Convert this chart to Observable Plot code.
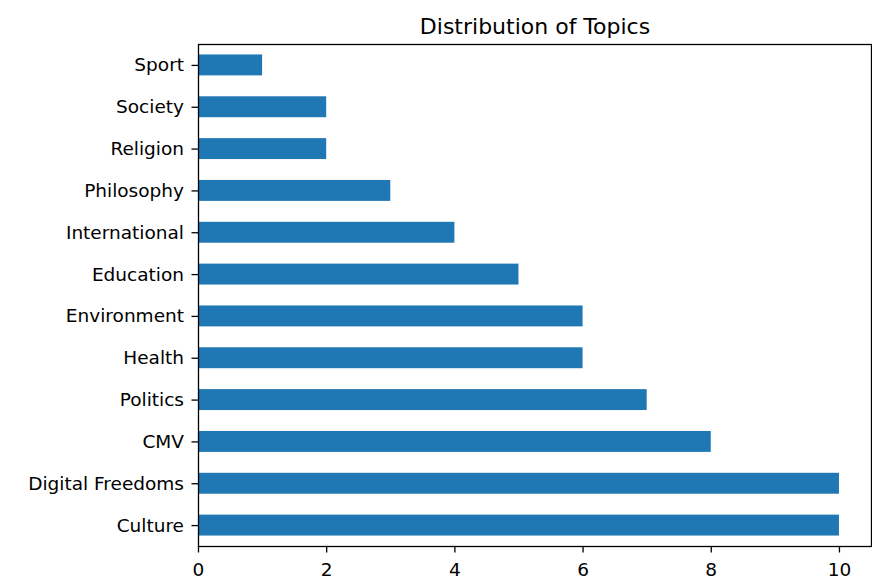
<!DOCTYPE html>
<html>
<head>
<meta charset="utf-8">
<script src="https://cdn.jsdelivr.net/npm/d3@7"></script>
<script src="https://cdn.jsdelivr.net/npm/@observablehq/plot@0.6"></script>
<style>
  html, body { margin: 0; padding: 0; background: #fff; }
  #wrap { position: relative; width: 872px; height: 588px; }
  #edge { position: absolute; left: 10px; top: 0; width: 1px; height: 588px; background: #e8e8e8; }
  svg text { font-family: "DejaVu Sans", sans-serif; }
</style>
</head>
<body>
<div id="wrap"><div id="edge"></div></div>
<script>
const topics = ["Sport", "Society", "Religion", "Philosophy", "International", "Education",
                "Environment", "Health", "Politics", "CMV", "Digital Freedoms", "Culture"];
const counts = [1, 2, 2, 3, 4, 5, 6, 6, 7, 8, 10, 10];
const xTicks = [0, 2, 4, 6, 8, 10];
const title = "Distribution of Topics";

const data = topics.map((t, i) => ({topic: t, count: counts[i]}));

const chart = Plot.plot({
  width: 872,
  height: 588,
  marginLeft: 198,
  marginRight: 1,
  marginTop: 44,
  marginBottom: 42,
  style: {fontFamily: "DejaVu Sans, sans-serif", fontSize: "18.5px", color: "#000", background: "#fff"},
  x: {domain: [0, 10.5], ticks: xTicks, label: null},
  y: {domain: topics, paddingInner: 0.5, paddingOuter: 0.25, round: false, label: null},
  marks: [
    Plot.barX(data, {x: "count", y: "topic", fill: "#1f77b4"}),
    Plot.axisX({ticks: xTicks, tickSize: 6.5, tickPadding: 10, strokeWidth: 1.3, stroke: "#000", fontSize: 18.5, label: null, tickFormat: d3.format("d")}),
    Plot.axisY({tickSize: 6.5, tickPadding: 8, strokeWidth: 1.3, stroke: "#000", fontSize: 18.5, label: null}),
    Plot.frame({stroke: "#000", strokeWidth: 1.3}),
    Plot.text([title], {frameAnchor: "top", lineAnchor: "middle", dy: -18, fontSize: 22, fill: "#000"})
  ]
});
document.getElementById("wrap").appendChild(chart);
chart.style.position = "absolute";
chart.style.left = "0";
chart.style.top = "0";
</script>
</body>
</html>
